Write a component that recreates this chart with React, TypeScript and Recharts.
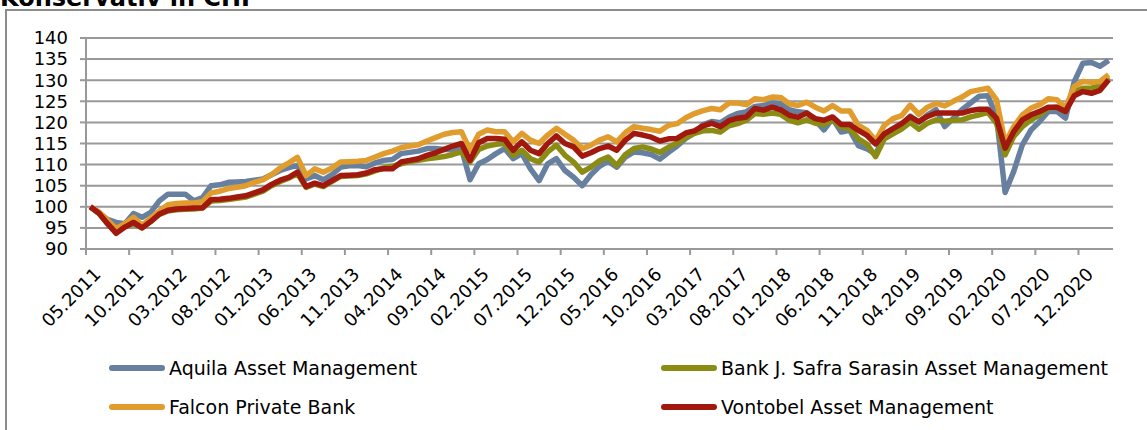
import { LineChart, Line, XAxis, YAxis, CartesianGrid } from 'recharts';

// monthly index values, 05.2011 - 03.2021
const months: string[] = [];
for (let k = 0; k < 119; k++) {
  const m = ((4 + k) % 12) + 1;
  const y = 2011 + Math.floor((4 + k) / 12);
  months.push(String(m).padStart(2, '0') + '.' + y);
}

const aquila = [
  100, 98.5, 97, 96.3, 96, 98.4, 97.5, 98.7, 101.4, 103,
  103, 103, 101.4, 102.2, 105, 105.2, 105.8, 105.9, 106, 106.3,
  106.6, 107.6, 108.6, 109.3, 109.8, 106.6, 107.4, 106.4, 107.6, 109.4,
  109.7, 109.8, 109.5, 110.4, 111, 111.2, 112.6, 112.9, 113.2, 113.8,
  113.8, 113.6, 113.5, 113.8, 106.4, 110.2, 111.2, 112.6, 113.8, 111.4,
  112.6, 109, 106.2, 110.2, 111.4, 108.6, 107, 105, 107.6, 109.6,
  110.8, 109.4, 111.8, 113, 112.8, 112.4, 111.3, 112.9, 114.4, 116.2,
  117.5, 119.5, 120.2, 119.9, 121.2, 122.1, 122.5, 123.8, 124, 124.6,
  124.4, 123, 122.5, 122.3, 120.6, 118.2, 120.9, 117.7, 118.1, 114.5,
  113.7, 112.5, 116.9, 118.1, 119.4, 121.5, 120, 121.8, 123, 119,
  121, 123, 124.6, 126.2, 126.3, 121.4, 103.4, 108.4, 114.7, 118.2,
  120.2, 122.6, 122.6, 121, 129.6, 134, 134.2, 133.3, 134.7,
];

const sarasin = [
  100, 98.4, 96, 94, 95.3, 96, 95, 96.6, 98.2, 99,
  99.3, 99.4, 99.5, 99.7, 101.4, 101.5, 101.7, 102, 102.3, 103,
  103.7, 105, 106, 106.8, 107.9, 104.6, 105.4, 104.8, 106, 107.2,
  107.3, 107.4, 107.8, 108.5, 109.2, 109.6, 110.2, 110.7, 111, 111.4,
  111.6, 111.9, 112.4, 113, 110.6, 113.6, 114.4, 114.8, 115, 112.2,
  113.4, 111.4, 110.6, 113, 114.6, 112.2, 110.6, 108.2, 109.4, 110.9,
  111.8, 109.8, 112.4, 113.8, 114.2, 113.7, 112.9, 114.1, 115.1, 116.4,
  117.4, 118, 118.1, 117.7, 119.2, 119.7, 120.5, 122.1, 121.9, 122.2,
  121.9, 120.5, 119.9, 120.6, 119.8, 119.5, 120.6, 118.9, 118.5, 116.1,
  114.8, 111.9, 116.1, 117.3, 118.4, 120, 118.4, 119.8, 120.6, 120.3,
  120.5, 120.6, 121.3, 121.8, 122.4, 119.8, 112.3, 116.7, 119, 120.6,
  121.8, 123.4, 123.6, 122.6, 127.3, 128.1, 128.1, 128.7, 130.7,
];

const falcon = [
  100, 98.8, 96.8, 94.8, 96, 97.5, 95.6, 97.3, 99, 100.5,
  100.8, 100.9, 100.9, 101.2, 103.3, 103.7, 104.3, 104.6, 105, 105.8,
  106.4, 107.6, 109.2, 110.4, 111.7, 107.4, 109, 108.2, 109.2, 110.6,
  110.7, 110.8, 111, 111.8, 112.6, 113.2, 114, 114.4, 114.7, 115.6,
  116.4, 117.2, 117.6, 117.8, 113.4, 117.2, 118.2, 117.8, 117.8, 115.4,
  117.4, 115.8, 115, 117, 118.6, 117.2, 115.8, 113.8, 114.6, 115.8,
  116.6, 115.4, 117.6, 119, 118.6, 118.3, 117.9, 119.3, 119.7, 121.1,
  122.1, 122.8, 123.3, 123, 124.6, 124.6, 124.2, 125.6, 125.4, 126,
  125.9, 124.4, 124, 124.8, 123.6, 122.7, 124, 122.7, 122.7, 119.3,
  118.1, 115.7, 119.3, 120.9, 121.6, 124.1, 121.9, 123.6, 124.5, 123.9,
  125, 126, 127.3, 127.7, 128.1, 125.4, 115.1, 119, 121.8, 123.4,
  124.2, 125.6, 125.4, 123.4, 128.5, 129.7, 129.5, 129.7, 131.3,
];

const vontobel = [
  100, 98.5, 96, 93.7, 95.2, 96.3, 95, 96.5, 98.3, 99.2,
  99.5, 99.6, 99.7, 99.8, 101.7, 101.8, 102, 102.3, 102.6, 103.3,
  104, 105.3, 106.3, 107, 108.2, 104.8, 105.6, 105, 106.2, 107.4,
  107.5, 107.6, 108, 108.8, 109, 109, 110.6, 111, 111.4, 112.2,
  112.8, 113.6, 114.4, 115, 111, 115.2, 116.2, 116.2, 116, 113.4,
  115.4, 113.4, 112.6, 115, 116.8, 115, 114.2, 112, 112.8, 113.8,
  114.4, 113.4, 115.8, 117.4, 117, 116.5, 115.6, 116.1, 116.2, 117.5,
  118, 119.2, 119.8, 119, 120.4, 121, 121.3, 123.3, 122.9, 123.6,
  123, 121.7, 121.2, 122.2, 120.9, 120.5, 121.3, 119.5, 119.5, 118.1,
  116.9, 114.9, 117.3, 118.5, 119.7, 121.3, 120.2, 121.4, 122.2, 122.2,
  122.2, 122.2, 122.8, 123.1, 123.1, 121, 113.9, 117.8, 120.6, 121.8,
  122.6, 123.6, 123.6, 122.6, 126.3, 127.3, 126.9, 127.6, 130.1,
];

const yTicks = [90, 95, 100, 105, 110, 115, 120, 125, 130, 135, 140];

const series = [
  { key: 'aquila', name: 'Aquila Asset Management', color: '#67809f' },
  { key: 'sarasin', name: 'Bank J. Safra Sarasin Asset Management', color: '#8a8c14' },
  { key: 'falcon', name: 'Falcon Private Bank', color: '#e09c2c' },
  { key: 'vontobel', name: 'Vontobel Asset Management', color: '#a0180e' },
];

const data = months.map((month, i) => ({
  month,
  aquila: aquila[i],
  sarasin: sarasin[i],
  falcon: falcon[i],
  vontobel: vontobel[i],
}));

const W = 1147;
const H = 430;
const PLOT_LEFT = 86;
const PLOT_RIGHT = 1113;
const PLOT_TOP = 38;
const PLOT_BOTTOM = 249;
const HALF = (PLOT_RIGHT - PLOT_LEFT) / months.length / 2;
const FONT = 'DejaVu Sans, Verdana, sans-serif';
const GRID = '#999999';

const MonthTick = (props: any) => {
  const { x, y, payload } = props;
  return (
    <g>
      <line x1={x - HALF} x2={x - HALF} y1={y} y2={y + 6} stroke={GRID} strokeWidth={2} />
      <g transform={`translate(${x + 7}, ${y + 22}) rotate(-45)`}>
        <text x={0} y={0} dy="0.35em" textAnchor="end" fontSize={18} fontFamily={FONT} fill="#000">
          {payload.value}
        </text>
      </g>
    </g>
  );
};

const LegendItem = ({ name, color, left, top }: any) => (
  <div style={{ position: 'absolute', left, top, display: 'flex', alignItems: 'center', whiteSpace: 'nowrap' }}>
    <div style={{ width: 56, height: 6, borderRadius: 3, background: color, marginRight: 4 }} />
    <span style={{ fontSize: 19, fontFamily: FONT, color: '#000' }}>{name}</span>
  </div>
);

const App = () => {
  return (
    <div style={{ position: 'fixed', left: 0, top: 0, width: W, height: H, overflow: 'hidden', background: '#fff' }}>
      <div
        style={{
          position: 'absolute',
          left: 0,
          top: -16,
          fontFamily: FONT,
          fontWeight: 'bold',
          fontSize: 24,
          whiteSpace: 'nowrap',
        }}
      >
        Konservativ in CHF
      </div>
      <div
        style={{
          position: 'absolute',
          left: 5,
          top: 9,
          width: 1300,
          height: 600,
          borderLeft: '2px solid #8c8c8c',
          borderTop: '2px solid #8c8c8c',
        }}
      />
      <div style={{ position: 'absolute', left: 0, top: 0 }}>
        <LineChart
          width={W}
          height={H}
          data={data}
          margin={{ top: PLOT_TOP, right: W - PLOT_RIGHT, bottom: 0, left: 0 }}
        >
          <CartesianGrid horizontal vertical={false} stroke={GRID} strokeWidth={2} />
          <XAxis
            dataKey="month"
            height={H - PLOT_BOTTOM}
            interval={4}
            padding={{ left: HALF, right: HALF }}
            tickLine={false}
            tickSize={0}
            tickMargin={0}
            axisLine={{ stroke: GRID, strokeWidth: 2 }}
            tick={<MonthTick />}
          />
          <YAxis
            width={PLOT_LEFT}
            domain={[90, 140]}
            ticks={yTicks}
            interval={0}
            tickSize={6}
            tickMargin={12}
            tickLine={{ stroke: GRID, strokeWidth: 2 }}
            axisLine={{ stroke: GRID, strokeWidth: 2 }}
            tick={{ fontSize: 18, fontFamily: FONT, fill: '#000' }}
          />
          {series.map((s) => (
            <Line
              key={s.key}
              type="linear"
              dataKey={s.key}
              name={s.name}
              stroke={s.color}
              strokeWidth={5.5}
              strokeLinejoin="round"
              dot={false}
              activeDot={false}
              isAnimationActive={false}
            />
          ))}
        </LineChart>
      </div>
      <LegendItem name={series[0].name} color={series[0].color} left={109} top={357} />
      <LegendItem name={series[1].name} color={series[1].color} left={661} top={357} />
      <LegendItem name={series[2].name} color={series[2].color} left={109} top={396} />
      <LegendItem name={series[3].name} color={series[3].color} left={661} top={396} />
    </div>
  );
};

export default App;
